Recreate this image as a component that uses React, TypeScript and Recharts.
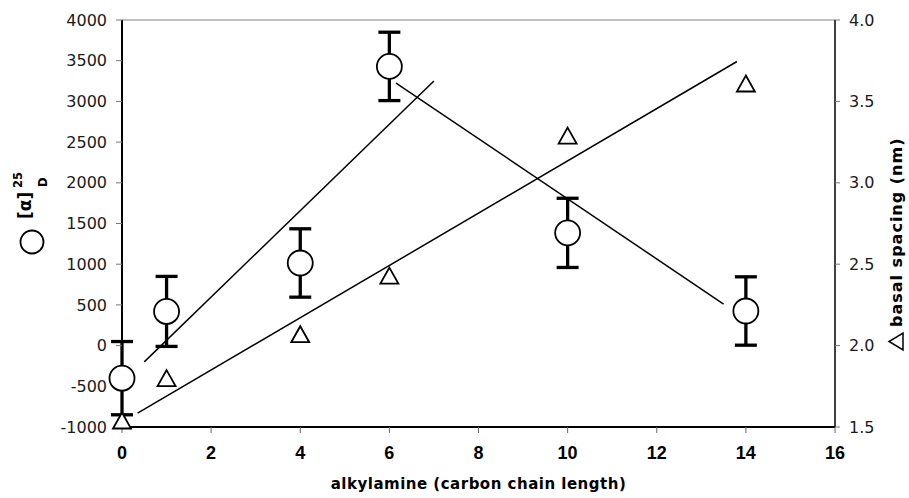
import { ComposedChart, XAxis, YAxis, Scatter, Line, ErrorBar, ReferenceLine } from "recharts";

// measured points: chain length vs specific rotation (left) and basal spacing (right)
const chainLength = [0, 1, 4, 6, 10, 14];
const specificRotation = [-400, 420, 1015, 3430, 1385, 425];
const rotationError = [450, 430, 420, 420, 425, 420];
const basalSpacing = [1.54, 1.8, 2.07, 2.43, 3.29, 3.61];

// fitted trend segments (end points)
const rotationRiseX = [0.5, 7.0];
const rotationRiseY = [-200, 3250];
const rotationFallX = [6.15, 13.5];
const rotationFallY = [3225, 510];
const spacingFitX = [0.35, 13.8];
const spacingFitY = [1.585, 3.745];

const xTicks = [0, 2, 4, 6, 8, 10, 12, 14, 16];
const leftTicks = [-1000, -500, 0, 500, 1000, 1500, 2000, 2500, 3000, 3500, 4000];
const rightTicks = [1.5, 2.0, 2.5, 3.0, 3.5, 4.0];

const toPoints = (xs: number[], ys: number[]) => xs.map((x, i) => ({ x, y: ys[i] }));

const rotationData = chainLength.map((x, i) => ({ x, y: specificRotation[i], err: rotationError[i] }));
const spacingData = toPoints(chainLength, basalSpacing);

// eslint-disable-next-line @typescript-eslint/no-explicit-any
function OpenCircle(props: any) {
  const { cx, cy } = props;
  return <circle cx={cx} cy={cy} r={12.5} fill="#fff" stroke="#000" strokeWidth={1.8} />;
}

// eslint-disable-next-line @typescript-eslint/no-explicit-any
function OpenTriangle(props: any) {
  const { cx, cy } = props;
  const pts = `${cx},${cy - 8} ${cx + 9},${cy + 8} ${cx - 9},${cy + 8}`;
  return <polygon points={pts} fill="#fff" stroke="#000" strokeWidth={1.8} strokeLinejoin="miter" />;
}

const LeftTitle = () => (
  <g transform="translate(32,242) rotate(-90)" fontFamily="DejaVu Sans" fontWeight="bold" fill="#000">
    <circle cx={0} cy={0} r={11.5} fill="none" stroke="#000" strokeWidth={1.8} />
    <text x={23} y={-1} fontSize={17}>[α]</text>
    <text x={54} y={-10} fontSize={11.5}>25</text>
    <text x={55} y={15} fontSize={11.5}>D</text>
  </g>
);

const RightTitle = () => (
  <g transform="translate(902,350) rotate(-90)" fontFamily="DejaVu Sans" fontWeight="bold" fill="#000">
    <polygon points="0,1 17,1 8.5,-13" fill="none" stroke="#000" strokeWidth={1.5} />
    <text x={23} y={0} fontSize={16} letterSpacing={1}>basal spacing (nm)</text>
  </g>
);

const BottomTitle = () => (
  <text x={478.5} y={489} textAnchor="middle" fontFamily="DejaVu Sans" fontWeight="bold" fontSize={15} letterSpacing={0.5} fill="#000">
    alkylamine (carbon chain length)
  </text>
);

export default function App() {
  return (
    <div>
      <style>{`body{margin:0}`}</style>
      <ComposedChart width={909} height={498} margin={{ top: 20, right: 0, bottom: 0, left: 0 }}>
        <XAxis
          type="number"
          dataKey="x"
          domain={[0, 16]}
          ticks={xTicks}
          height={71}
          axisLine={{ stroke: "#000", strokeWidth: 1.8 }}
          tickLine={{ stroke: "#666" }}
          tickSize={6}
          tickMargin={13}
          tick={{ fontFamily: "Liberation Sans", fontWeight: "bold", fontSize: 18, fill: "#000" }}
          label={{ content: () => <BottomTitle /> }}
        />
        <YAxis
          yAxisId="left"
          dataKey="y"
          type="number"
          domain={[-1000, 4000]}
          ticks={leftTicks}
          width={122}
          axisLine={{ stroke: "#000", strokeWidth: 2 }}
          tickLine={{ stroke: "#777" }}
          tickSize={6}
          tickMargin={9}
          tick={{ fontFamily: "DejaVu Sans", fontSize: 16, fill: "#1a1a1a" }}
          label={{ content: () => <LeftTitle /> }}
        />
        <YAxis
          yAxisId="right"
          orientation="right"
          dataKey="y"
          type="number"
          domain={[1.5, 4.0]}
          ticks={rightTicks}
          tickFormatter={(v: number) => v.toFixed(1)}
          width={74}
          axisLine={{ stroke: "#000", strokeWidth: 1.5 }}
          tickLine={{ stroke: "#777" }}
          tickSize={5}
          tickMargin={9}
          tick={{ fontFamily: "DejaVu Sans", fontSize: 16, fill: "#1a1a1a" }}
          label={{ content: () => <RightTitle /> }}
        />
        <ReferenceLine yAxisId="left" y={4000} stroke="#808080" strokeWidth={1.2} />

        <Line
          yAxisId="left"
          data={toPoints(rotationRiseX, rotationRiseY)}
          dataKey="y"
          type="linear"
          stroke="#000"
          strokeWidth={1.5}
          dot={false}
          activeDot={false}
          isAnimationActive={false}
        />
        <Line
          yAxisId="left"
          data={toPoints(rotationFallX, rotationFallY)}
          dataKey="y"
          type="linear"
          stroke="#000"
          strokeWidth={1.5}
          dot={false}
          activeDot={false}
          isAnimationActive={false}
        />
        <Line
          yAxisId="right"
          data={toPoints(spacingFitX, spacingFitY)}
          dataKey="y"
          type="linear"
          stroke="#000"
          strokeWidth={1.5}
          dot={false}
          activeDot={false}
          isAnimationActive={false}
        />

        <Scatter yAxisId="right" data={spacingData} dataKey="y" shape={<OpenTriangle />} isAnimationActive={false} />
        <Scatter yAxisId="left" data={rotationData} dataKey="y" shape={<OpenCircle />} isAnimationActive={false}>
          <ErrorBar dataKey="err" direction="y" width={11} strokeWidth={3.3} stroke="#000" />
        </Scatter>
      </ComposedChart>
    </div>
  );
}
